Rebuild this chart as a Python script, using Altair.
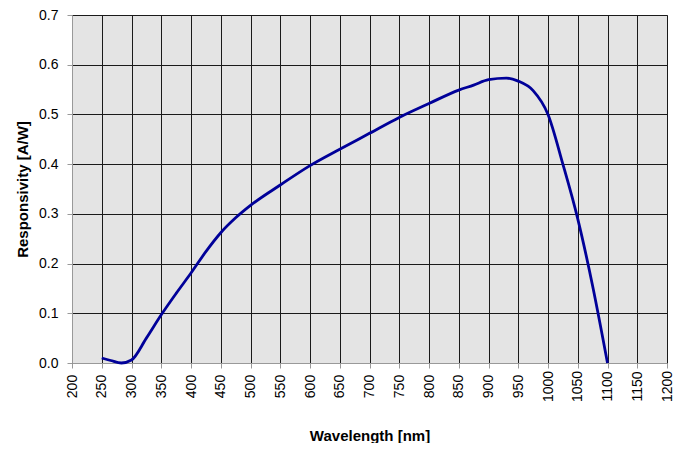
import altair as alt
import pandas as pd

wavelength = [250, 265, 283, 300, 325, 350, 375, 400, 425, 450, 475, 500, 550, 600,
              650, 700, 750, 800, 850, 875, 900, 930, 950, 975, 1000, 1025, 1050, 1075, 1100]
responsivity = [0.010, 0.005, 0.000, 0.006, 0.050, 0.097, 0.140, 0.181, 0.224, 0.262,
                0.292, 0.317, 0.358, 0.397, 0.430, 0.462, 0.494, 0.522, 0.549, 0.559,
                0.570, 0.573, 0.567, 0.548, 0.500, 0.400, 0.290, 0.155, 0.000]
x_ticks = list(range(200, 1201, 50))
y_ticks = [0.0, 0.1, 0.2, 0.3, 0.4, 0.5, 0.6, 0.7]

df = pd.DataFrame({"wl": wavelength, "r": responsivity})

font = "Liberation Sans"

chart = alt.Chart(df).mark_line(
    color="#000099", strokeWidth=2.8, interpolate="monotone"
).encode(
    x=alt.X("wl:Q",
            scale=alt.Scale(domain=[200, 1200], nice=False, zero=False),
            axis=alt.Axis(title="Wavelength [nm]", values=x_ticks, format="d",
                          labelAngle=270, labelAlign="center", labelBaseline="middle",
                          labelPadding=18, tickSize=5, labelFontSize=14,
                          titleY=72, titleBaseline="middle", titleFontSize=15)),
    y=alt.Y("r:Q",
            scale=alt.Scale(domain=[0, 0.7], nice=False),
            axis=alt.Axis(title="Responsivity [A/W]", values=y_ticks, format=".1f",
                          labelPadding=9, tickSize=5, labelFontSize=14,
                          titleX=-50, titleY=174, titleAngle=270, titleAlign="center",
                          titleBaseline="middle", titleFontSize=15)),
).properties(
    width=595, height=348,
    autosize=alt.AutoSizeParams(type="none"),
    padding={"left": 64, "top": 7, "right": 12, "bottom": 80},
).configure_view(
    fill="#e4e4e4", stroke="#888888", strokeWidth=1
).configure_axis(
    grid=True, gridColor="#1a1a1a", gridWidth=1, gridOpacity=1,
    domainColor="#999999", tickColor="#999999",
    labelFont=font, titleFont=font, labelColor="#000000", titleColor="#000000",
    titleFontWeight="bold", labelFontWeight="normal",
    labelOverlap=False, labelFlush=False,
)

chart.save("out.html", embed_options={"renderer": "svg", "actions": False})
